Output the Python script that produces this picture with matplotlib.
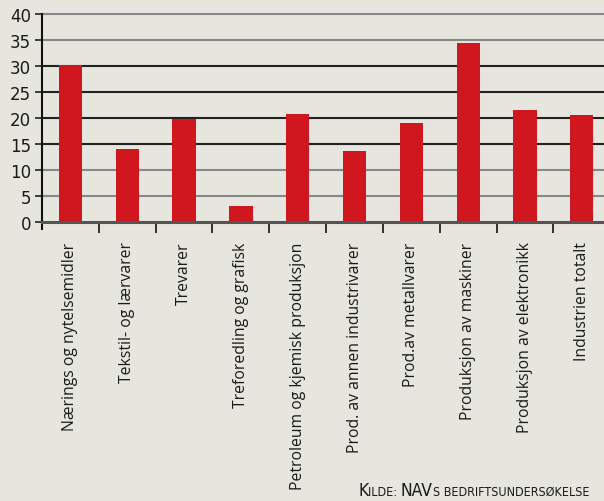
import matplotlib
matplotlib.use("Agg")
import matplotlib.pyplot as plt

categories = ["Nærings og nytelsemidler", "Tekstil- og lærvarer", "Trevarer",
              "Treforedling og grafisk", "Petroleum og kjemisk produksjon",
              "Prod. av annen industrivarer", "Prod.av metallvarer",
              "Produksjon av maskiner", "Produksjon av elektronikk",
              "Industrien totalt"]
values = [30.2, 14.0, 19.9, 3.1, 20.8, 13.7, 19.0, 34.4, 21.5, 20.6]
yticks = [0, 5, 10, 15, 20, 25, 30, 35, 40]

bg = "#e6e6df"
bar_color = "#d0161f"

fig = plt.figure(figsize=(6.04, 5.02), dpi=100, facecolor=bg)
ax = fig.add_axes([42 / 604, 279 / 502, 562 / 604, 208 / 502], facecolor=bg)

x = list(range(len(categories)))
ax.bar(x, values, width=0.41, color=bar_color, zorder=3)

# horizontal grid lines: outer ones grey, middle ones near-black
for v in yticks[1:]:
    c = "#222222" if 15 <= v <= 30 else "#888888"
    ax.axhline(v, color=c, lw=1.5, zorder=1, clip_on=False)
ax.axhline(0, color="#555555", lw=2.2, zorder=4, clip_on=False)

ax.set_xlim(-0.5, 9.39)
ax.set_ylim(0, 40)
ax.set_yticks(yticks)
ax.set_yticklabels([str(v) for v in yticks], fontsize=12, color="#1a1a1a")
ax.tick_params(axis="y", length=5, width=1.2, color="#222222", pad=3)

ax.set_xticks(x)
ax.set_xticklabels(categories, rotation=90, fontsize=11.3, color="#1a1a1a",
                   va="top", ha="center", family="Open Sans")
ax.tick_params(axis="x", which="major", length=0, pad=14)
ax.set_xticks([i + 0.5 for i in range(len(categories) - 1)], minor=True)
ax.tick_params(axis="x", which="minor", length=8, width=1.3, color="#222222")

for s in ["top", "right", "bottom"]:
    ax.spines[s].set_visible(False)
ax.spines["left"].set_color("#111111")
ax.spines["left"].set_linewidth(1.5)
ax.spines["left"].set_bounds(-1.3, 40)

# source note in small caps, built from pieces
pieces = [("K", 12.5), ("ILDE: ", 9), ("NAV", 12.5), ("S BEDRIFTSUNDERSØKELSE", 9)]
fig.canvas.draw()
r = fig.canvas.get_renderer()
xpos = 358
for txt, size in pieces:
    t = fig.text(xpos / 604, 6 / 502, txt, fontsize=size, color="#1a1a1a",
                 family="DejaVu Sans", fontstretch="condensed",
                 ha="left", va="baseline")
    xpos += t.get_window_extent(r).width

fig.savefig("out.png", dpi=100, facecolor=bg)
